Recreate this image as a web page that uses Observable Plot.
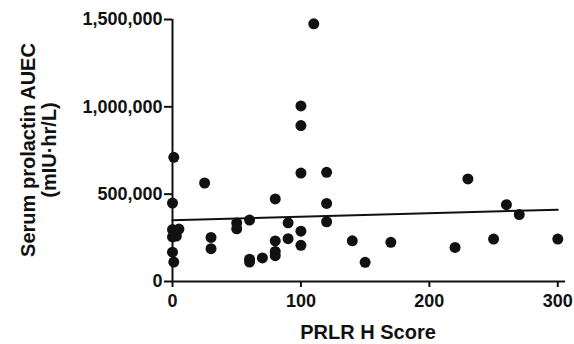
<!DOCTYPE html>
<html>
<head>
<meta charset="utf-8">
<script src="https://cdn.jsdelivr.net/npm/d3@7"></script>
<script src="https://cdn.jsdelivr.net/npm/@observablehq/plot@0.6"></script>
<style>
  html, body { margin: 0; padding: 0; background: #fff; }
  svg { display: block; }
  svg path, svg line { stroke-width: 2px; }
</style>
</head>
<body>
<div id="chart"></div>
<script>
// PRLR H score (x) and serum prolactin AUEC (y, mIU·hr/L)
const hScore = [1, 0, 0, 2, 5, 0, 3, 0, 1,
  25, 30, 30, 50, 50, 60, 60, 60, 70, 80, 80, 80, 80, 90, 90,
  100, 100, 100, 100, 100, 110, 120, 120, 120, 140, 150, 170, 220, 230, 250, 260, 270, 300];
const auec = [711000, 449000, 297000, 290000, 300000, 255000, 260000, 168000, 111000,
  564000, 252000, 188000, 335000, 302000, 352000, 128000, 111000, 135000, 473000, 232000, 172000, 148000, 336000, 245000,
  1005000, 893000, 621000, 288000, 207000, 1475000, 625000, 447000, 342000, 233000, 110000, 224000, 195000, 587000, 243000, 440000, 383000, 243000];
// fitted regression line
const fitX = [0, 300];
const fitY = [350000, 411000];
const xTicks = [0, 100, 200, 300];
const yTicks = [0, 500000, 1000000, 1500000];
const xTitle = "PRLR H Score";
const yTitle = ["Serum prolactin AUEC", "(mIU·hr/L)"];

const points = hScore.map((x, i) => ({x, y: auec[i]}));
const fit = fitX.map((x, i) => ({x, y: fitY[i]}));

const chart = Plot.plot({
  width: 574,
  height: 344,
  marginLeft: 172,
  marginRight: 9,
  marginTop: 19,
  marginBottom: 63,
  style: {fontFamily: "'Liberation Sans', Arial, sans-serif", fontSize: "18px", fontWeight: "bold", color: "#111", background: "#fff"},
  x: {domain: [0, 306], ticks: xTicks, tickSize: 6, tickPadding: 7, label: null, tickFormat: d3.format("d")},
  y: {domain: [0, 1500000], ticks: yTicks, tickSize: 8, tickPadding: 2, label: null, tickFormat: d3.format(",")},
  marks: [
    Plot.ruleX([0], {stroke: "#111", strokeWidth: 2}),
    Plot.ruleY([0], {stroke: "#111", strokeWidth: 2}),
    Plot.line(fit, {x: "x", y: "y", stroke: "#111", strokeWidth: 2}),
    Plot.dot(points, {x: "x", y: "y", r: 5.5, fill: "#111", stroke: "none"})
  ]
});
document.getElementById("chart").appendChild(chart);

const svg = d3.select(chart);
svg.append("text")
  .attr("x", 368).attr("y", 339)
  .attr("text-anchor", "middle")
  .attr("fill", "#111")
  .style("font-size", "20px").style("font-weight", "bold")
  .text(xTitle);
const yl = svg.append("g").attr("transform", "translate(0,150) rotate(-90)");
yl.append("text").attr("x", 0).attr("y", 35)
  .attr("text-anchor", "middle").attr("fill", "#111")
  .style("font-size", "20px").style("font-weight", "bold")
  .text(yTitle[0]);
yl.append("text").attr("x", 0).attr("y", 56)
  .attr("text-anchor", "middle").attr("fill", "#111")
  .style("font-size", "20px").style("font-weight", "bold")
  .text(yTitle[1]);
</script>
</body>
</html>
